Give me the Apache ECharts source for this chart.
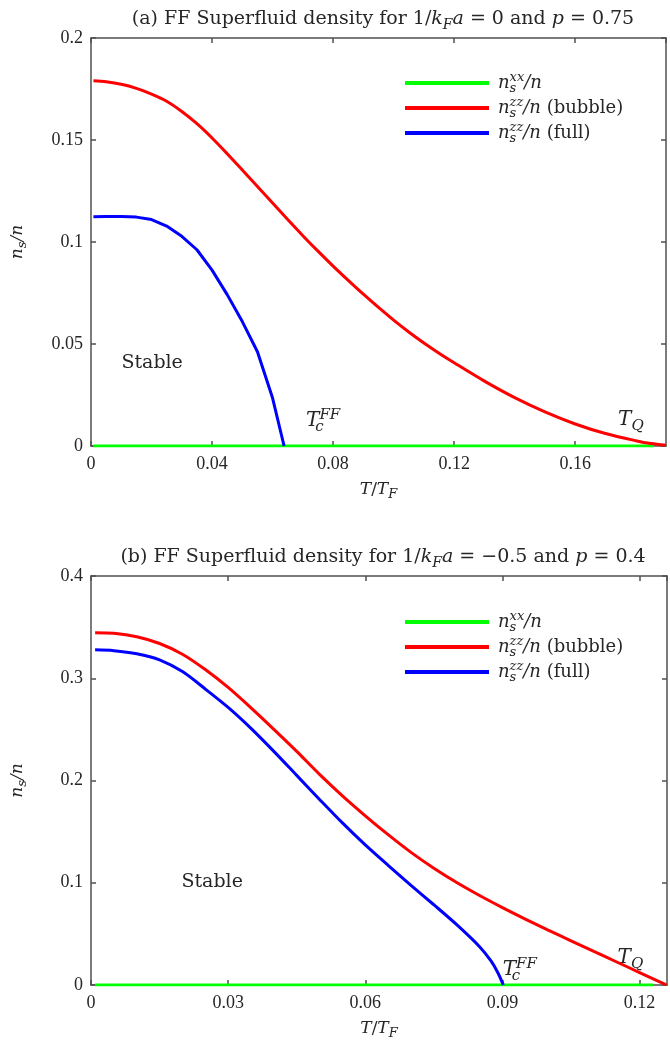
<!DOCTYPE html>
<html>
<head>
<meta charset="utf-8">
<script src="https://cdn.jsdelivr.net/npm/echarts@6/dist/echarts.min.js"></script>
<style>html,body{margin:0;padding:0;background:#fff}#c{width:670px;height:1045px}</style>
</head>
<body>
<div id="c"></div>
<script>
// ---------- Data (a): 1/kFa = 0, p = 0.75 ----------
const aGreenT = [0.0008, 0.05, 0.10, 0.15, 0.186];
const aGreenV = [0, 0, 0, 0, 0];
const aRedT = [0.0008, 0.005, 0.01, 0.015, 0.02, 0.025, 0.03, 0.035, 0.04, 0.045, 0.05, 0.055, 0.06, 0.065, 0.07, 0.075, 0.08, 0.085, 0.09, 0.095, 0.10, 0.105, 0.11, 0.115, 0.12, 0.13, 0.14, 0.15, 0.16, 0.17, 0.18, 0.185, 0.19];
const aRedV = [0.1790, 0.1785, 0.1773, 0.1753, 0.1725, 0.1690, 0.1640, 0.1580, 0.1510, 0.1433, 0.1353, 0.1272, 0.1191, 0.1110, 0.1031, 0.0955, 0.0882, 0.0812, 0.0744, 0.0679, 0.0617, 0.0559, 0.0505, 0.0455, 0.0408, 0.0318, 0.0237, 0.0167, 0.0108, 0.0061, 0.0026, 0.0012, 0.0004];
const aBlueT = [0.0008, 0.005, 0.01, 0.015, 0.02, 0.025, 0.03, 0.035, 0.04, 0.045, 0.05, 0.055, 0.06, 0.0638];
const aBlueV = [0.1124, 0.1125, 0.1125, 0.1122, 0.1110, 0.1078, 0.1028, 0.0962, 0.0862, 0.0742, 0.0610, 0.0462, 0.0235, 0];

// ---------- Data (b): 1/kFa = -0.5, p = 0.4 ----------
const bGreenT = [0.0009, 0.04, 0.08, 0.123];
const bGreenV = [0, 0, 0, 0];
const bRedT = [0.0009, 0.005, 0.01, 0.015, 0.02, 0.025, 0.03, 0.035, 0.04, 0.045, 0.05, 0.055, 0.06, 0.065, 0.07, 0.075, 0.08, 0.085, 0.09, 0.095, 0.10, 0.105, 0.11, 0.115, 0.12, 0.125, 0.1259];
const bRedV = [0.3446, 0.3440, 0.3405, 0.3340, 0.3235, 0.3085, 0.2910, 0.2710, 0.2500, 0.2285, 0.2060, 0.1850, 0.1655, 0.1470, 0.1297, 0.1142, 0.1002, 0.0875, 0.0757, 0.0645, 0.0537, 0.0432, 0.0328, 0.0225, 0.0122, 0.0019, 0];
const bBlueT = [0.0009, 0.005, 0.01, 0.015, 0.02, 0.025, 0.03, 0.035, 0.04, 0.045, 0.05, 0.055, 0.06, 0.065, 0.07, 0.075, 0.08, 0.085, 0.0875, 0.089, 0.0902];
const bBlueV = [0.3278, 0.3270, 0.3240, 0.3180, 0.3065, 0.2895, 0.2715, 0.2510, 0.2285, 0.2050, 0.1815, 0.1585, 0.1370, 0.1170, 0.0975, 0.0785, 0.0590, 0.0375, 0.0235, 0.0120, 0];

// ---------- Axes ----------
const aX = {min: 0, max: 0.19, interval: 0.04};
const aY = {min: 0, max: 0.2, interval: 0.05};
const bX = {min: 0, max: 0.126, interval: 0.03};
const bY = {min: 0, max: 0.4, interval: 0.1};

// ---------- Annotations [T, ns] ----------
const aStable = [0.0202, 0.0407];
const aTc = [0.0767, 0.0123];
const aTQ = [0.1784, 0.0127];
const bStable = [0.0265, 0.1007];
const bTc = [0.0938, 0.0147];
const bTQ = [0.1180, 0.0264];

const names = ['xx', 'zzb', 'zzf'];
const titles = [
  '{rm|(a) FF Superfluid density for 1/}{it|k}{sub|F}{it|a}{rm| = 0 and }{it|p}{rm| = 0.75}',
  '{rm|(b) FF Superfluid density for 1/}{it|k}{sub|F}{it|a}{rm| = \u22120.5 and }{it|p}{rm| = 0.4}'
];

const FONT = 'DejaVu Serif';
const NUMFONT = 'Liberation Serif';
const TXT = '#262626';
const AX = '#505050';

function mkRich(size) {
  const lh = Math.round(size * 1.35);
  const s = Math.round(size * 0.74);
  const b = {fontFamily: FONT, fontWeight: 'normal', color: TXT};
  return {
    rm: Object.assign({}, b, {fontSize: size, lineHeight: lh}),
    it: Object.assign({}, b, {fontStyle: 'italic', fontSize: size, lineHeight: lh}),
    sub: Object.assign({}, b, {fontStyle: 'italic', fontSize: s, lineHeight: s, verticalAlign: 'bottom'}),
    sub0: Object.assign({}, b, {fontStyle: 'italic', fontSize: s, lineHeight: s, verticalAlign: 'bottom', width: 0}),
    sup: Object.assign({}, b, {fontStyle: 'italic', fontSize: s, lineHeight: s, verticalAlign: 'top'})
  };
}

const legendText = {
  xx: '{it|n}{sub0|s}{sup|xx}{it|/n}',
  zzb: '{it|n}{sub0|s}{sup|zz}{it|/n}{rm| (bubble)}',
  zzf: '{it|n}{sub0|s}{sup|zz}{it|/n}{rm| (full)}'
};

const fmt = v => String(+v.toFixed(4));
const grids = [
  {left: 91, top: 38, width: 575, height: 408, outerBoundsMode: 'none', containLabel: false},
  {left: 91, top: 576, width: 576, height: 409, outerBoundsMode: 'none', containLabel: false}
];

function xAxes(gi, r) {
  const base = {type: 'value', gridIndex: gi, min: r.min, max: r.max, interval: r.interval,
    splitLine: {show: false},
    axisLine: {show: true, onZero: false, lineStyle: {color: AX, width: 1.5}},
    axisTick: {show: true, inside: true, length: 5, lineStyle: {color: AX, width: 1.5}}};
  return [
    Object.assign({}, base, {position: 'bottom',
      axisLabel: {show: true, margin: 9, formatter: fmt, showMaxLabel: false, fontFamily: NUMFONT, fontSize: 18, color: TXT},
      name: '{it|T}{rm|/}{it|T}{sub|F}', nameLocation: 'middle', nameGap: 32,
      nameTextStyle: {rich: mkRich(17)}}),
    Object.assign({}, base, {position: 'top', axisLabel: {show: false}})
  ];
}
function yAxes(gi, r) {
  const base = {type: 'value', gridIndex: gi, min: r.min, max: r.max, interval: r.interval,
    splitLine: {show: false},
    axisLine: {show: true, onZero: false, lineStyle: {color: AX, width: 1.5}},
    axisTick: {show: true, inside: true, length: 5, lineStyle: {color: AX, width: 1.5}}};
  return [
    Object.assign({}, base, {position: 'left',
      axisLabel: {show: true, margin: 8, formatter: fmt, fontFamily: NUMFONT, fontSize: 18, color: TXT},
      name: '{it|n}{sub|s}{it|/n}', nameLocation: 'middle', nameGap: 62, nameRotate: 90,
      nameTextStyle: {rich: mkRich(17)}}),
    Object.assign({}, base, {position: 'right', axisLabel: {show: false}})
  ];
}

function pairs(T, V) { return T.map((t, i) => [t, V[i]]); }
function line(name, color, T, V, ai, sm) {
  return {type: 'line', name: name, xAxisIndex: ai, yAxisIndex: ai, data: pairs(T, V),
    symbol: 'none', smooth: sm, lineStyle: {color: color, width: 3}, itemStyle: {color: color},
    silent: true, animation: false};
}
function note(pt, text, ai, size) {
  return {type: 'scatter', xAxisIndex: ai, yAxisIndex: ai, symbolSize: 0, silent: true, animation: false,
    itemStyle: {opacity: 1},
    data: [pt], label: {show: true, position: 'inside', color: TXT, textBorderWidth: 0, opacity: 1,
      formatter: text, rich: mkRich(size)}};
}

const series = [
  line('xx', '#00ff00', aGreenT, aGreenV, 0, false),
  line('zzb', '#ff0000', aRedT, aRedV, 0, 0.3),
  line('zzf', '#0000ff', aBlueT, aBlueV, 0, false),
  note(aStable, '{rm|Stable}', 0, 19),
  note(aTc, '{it|T}{sub0|c}{sup|FF}', 0, 20),
  note(aTQ, '{it|T}{sub|Q}', 0, 20),
  line('xx', '#00ff00', bGreenT, bGreenV, 2, false),
  line('zzb', '#ff0000', bRedT, bRedV, 2, 0.3),
  line('zzf', '#0000ff', bBlueT, bBlueV, 2, 0.3),
  note(bStable, '{rm|Stable}', 2, 19),
  note(bTc, '{it|T}{sub0|c}{sup|FF}', 2, 20),
  note(bTQ, '{it|T}{sub|Q}', 2, 20)
];

function legend(top) {
  return {orient: 'vertical', left: 405, top: top, padding: 0, itemWidth: 84, itemHeight: 4, itemGap: 1,
    icon: 'rect', data: names, selectedMode: false, formatter: n => legendText[n],
    textStyle: {rich: mkRich(18), padding: [0, 0, 0, 4]}};
}

const chart = echarts.init(document.getElementById('c'), null, {renderer: 'canvas'});
chart.setOption({
  animation: false,
  backgroundColor: '#fff',
  title: [
    {text: titles[0], left: 378, top: 1, textAlign: 'center', textStyle: {fontWeight: 'normal', rich: mkRich(19)}},
    {text: titles[1], left: 378, top: 539, textAlign: 'center', textStyle: {fontWeight: 'normal', rich: mkRich(19)}}
  ],
  legend: [legend(71), legend(610)],
  grid: grids,
  xAxis: [].concat(xAxes(0, aX), xAxes(1, bX)),
  yAxis: [].concat(yAxes(0, aY), yAxes(1, bY)),
  series: series
});
</script>
</body>
</html>
